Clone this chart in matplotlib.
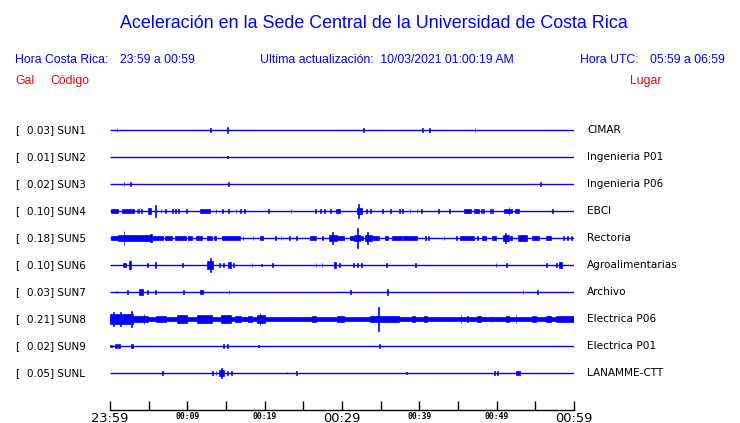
import numpy as np
import matplotlib
matplotlib.use('Agg')
import matplotlib.pyplot as plt

# stations
codes = ['SUN1', 'SUN2', 'SUN3', 'SUN4', 'SUN5', 'SUN6', 'SUN7', 'SUN8', 'SUN9', 'SUNL']
gal_max = [0.03, 0.01, 0.02, 0.10, 0.18, 0.10, 0.03, 0.21, 0.02, 0.05]
places = ['CIMAR', 'Ingenieria P01', 'Ingenieria P06', 'EBCI', 'Rectoria',
          'Agroalimentarias', 'Archivo', 'Electrica P06', 'Electrica P01', 'LANAMME-CTT']

# bursts: (start min, end min, half amplitude in gal)
sun1 = [(0.9, 0.9, 0.03), (13.0, 13.0, 0.03), (15.2, 15.2, 0.045), (32.8, 32.8, 0.03),
        (40.4, 40.4, 0.025), (41.3, 41.3, 0.03), (47.2, 47.2, 0.03)]
sun2 = [(15.2, 15.2, 0.016)]
sun3 = [(1.8, 1.8, 0.03), (2.7, 2.7, 0.025), (15.2, 15.4, 0.035), (55.7, 55.7, 0.03)]
sun4 = [(0.1, 1.0, 0.03), (1.5, 3.1, 0.035), (3.5, 3.5, 0.03), (3.7, 3.7, 0.03), (4.1, 4.1, 0.03),
        (4.9, 5.3, 0.045), (5.9, 5.9, 0.1), (6.6, 6.6, 0.025), (7.2, 7.2, 0.025), (8.1, 8.1, 0.025),
        (8.5, 8.5, 0.025), (8.9, 8.9, 0.025), (9.9, 9.9, 0.025), (11.7, 12.9, 0.04), (13.7, 13.7, 0.025),
        (14.5, 14.5, 0.025), (15.2, 15.4, 0.035), (16.3, 16.3, 0.025), (16.9, 16.9, 0.025),
        (17.4, 17.4, 0.035), (20.5, 20.5, 0.025), (23.4, 23.4, 0.025), (26.6, 26.6, 0.03),
        (27.2, 27.2, 0.03), (27.7, 27.7, 0.03), (28.5, 28.5, 0.03), (29.2, 29.8, 0.04),
        (32.0, 32.6, 0.05), (32.1, 32.1, 0.11), (33.2, 33.2, 0.03), (33.7, 33.7, 0.035),
        (35.2, 35.2, 0.03), (36.3, 36.3, 0.03), (37.4, 37.4, 0.03), (37.8, 37.8, 0.03),
        (38.8, 38.8, 0.03), (39.7, 39.7, 0.03), (40.3, 40.3, 0.03), (42.5, 42.5, 0.025),
        (43.9, 43.9, 0.03), (45.8, 46.7, 0.035), (47.1, 47.7, 0.035), (48.0, 48.0, 0.03),
        (48.3, 48.3, 0.03), (49.2, 49.2, 0.025), (49.5, 49.5, 0.025), (51.0, 52.0, 0.04),
        (51.6, 51.6, 0.07), (52.4, 52.9, 0.035), (57.2, 57.2, 0.03)]
sun5 = [(0.1, 1.0, 0.028), (1.0, 2.6, 0.055), (1.8, 1.8, 0.11), (2.6, 5.2, 0.042), (5.2, 5.4, 0.06),
        (5.4, 6.8, 0.035), (7.1, 8.0, 0.028), (8.4, 9.8, 0.035), (10.1, 10.6, 0.03), (11.1, 11.9, 0.03),
        (12.5, 13.2, 0.03), (13.5, 13.7, 0.03), (14.5, 16.8, 0.04), (17.2, 17.2, 0.03),
        (18.5, 18.5, 0.03), (19.4, 19.8, 0.03), (21.4, 21.4, 0.03), (22.1, 22.1, 0.03),
        (23.2, 23.2, 0.03), (24.1, 24.1, 0.025), (25.9, 26.6, 0.04), (27.5, 27.5, 0.03),
        (28.3, 29.3, 0.05), (28.8, 28.8, 0.1), (29.4, 30.3, 0.03), (31.0, 31.6, 0.04),
        (31.6, 32.3, 0.055), (32.0, 32.0, 0.16), (32.3, 32.7, 0.04), (33.0, 33.9, 0.055),
        (33.3, 33.3, 0.1), (33.9, 34.8, 0.03), (35.6, 36.0, 0.03), (36.5, 37.7, 0.035),
        (37.9, 39.7, 0.035), (40.8, 40.8, 0.03), (41.2, 41.2, 0.03), (43.2, 43.2, 0.025),
        (44.8, 44.8, 0.025), (45.3, 47.1, 0.035), (47.4, 47.6, 0.03), (48.1, 48.6, 0.03),
        (49.4, 49.9, 0.03), (50.8, 51.6, 0.05), (51.1, 51.1, 0.08), (51.7, 52.0, 0.03),
        (52.8, 53.9, 0.045), (54.6, 55.5, 0.028), (56.4, 57.0, 0.03), (58.6, 58.6, 0.025),
        (59.2, 59.2, 0.025), (59.7, 59.7, 0.025)]
sun6 = [(1.7, 2.1, 0.04), (2.5, 2.7, 0.06), (2.6, 2.6, 0.08), (4.8, 4.8, 0.03), (5.8, 6.0, 0.045),
        (9.4, 9.4, 0.04), (12.5, 13.3, 0.06), (13.0, 13.0, 0.113), (14.2, 14.2, 0.03), (14.7, 14.7, 0.03),
        (15.2, 15.6, 0.045), (16.0, 16.0, 0.035), (18.3, 18.4, 0.04), (19.6, 19.6, 0.016),
        (21.0, 21.1, 0.04), (26.6, 26.7, 0.04), (27.4, 27.4, 0.03), (29.0, 29.2, 0.045),
        (29.7, 29.7, 0.03), (31.4, 31.6, 0.04), (32.0, 32.0, 0.03), (32.5, 32.5, 0.04),
        (35.7, 35.8, 0.04), (39.5, 39.5, 0.03), (49.9, 49.9, 0.03), (51.2, 51.3, 0.04),
        (56.4, 56.4, 0.03), (57.7, 57.7, 0.03), (58.0, 58.4, 0.045)]
sun7 = [(0.9, 0.9, 0.016), (2.3, 2.3, 0.03), (3.7, 4.3, 0.045), (4.8, 4.8, 0.035), (5.8, 6.0, 0.04),
        (9.5, 9.5, 0.035), (11.7, 12.0, 0.04), (15.4, 15.4, 0.035), (31.1, 31.1, 0.03),
        (35.8, 35.9, 0.045), (53.4, 53.4, 0.035), (55.2, 55.3, 0.04)]
sun8 = [(0.0, 3.0, 0.085), (2.7, 2.8, 0.13), (0.4, 0.5, 0.12), (1.3, 1.4, 0.12), (3.0, 3.6, 0.055),
        (3.6, 4.9, 0.05), (4.4, 4.4, 0.08), (4.9, 6.0, 0.032), (6.0, 7.3, 0.05), (7.3, 8.6, 0.04),
        (8.6, 9.9, 0.06), (9.9, 11.2, 0.032), (11.2, 13.2, 0.06), (13.2, 14.3, 0.032),
        (14.3, 15.7, 0.065), (15.7, 16.2, 0.032), (16.2, 17.0, 0.045), (17.0, 17.8, 0.032),
        (17.8, 18.3, 0.045), (18.3, 19.0, 0.032), (19.0, 20.0, 0.07), (19.4, 19.4, 0.1),
        (20.0, 23.5, 0.032), (23.5, 26.1, 0.035), (26.1, 26.6, 0.045), (26.6, 29.4, 0.032),
        (29.4, 30.3, 0.045), (30.3, 33.6, 0.035), (33.6, 34.5, 0.045), (34.5, 35.5, 0.055),
        (34.7, 34.7, 0.2), (35.5, 37.4, 0.055), (37.4, 38.7, 0.035), (38.7, 41.0, 0.04),
        (39.0, 39.4, 0.05), (40.6, 41.0, 0.05), (41.0, 42.6, 0.035), (42.6, 45.2, 0.04),
        (45.4, 45.4, 0.065), (45.2, 57.7, 0.032), (46.2, 46.2, 0.05), (47.5, 48.0, 0.045),
        (49.4, 49.4, 0.05), (51.2, 51.6, 0.05), (52.5, 52.5, 0.065), (54.6, 55.1, 0.045),
        (56.4, 57.0, 0.05), (57.7, 60.0, 0.042)]
sun9 = [(0.0, 0.3, 0.024), (0.4, 0.4, 0.016), (0.6, 0.9, 0.03), (1.0, 1.3, 0.03), (2.7, 3.0, 0.035),
        (14.7, 14.7, 0.03), (15.2, 15.2, 0.03), (19.2, 19.2, 0.016), (34.8, 34.8, 0.04),
        (35.3, 35.3, 0.024)]
sunl = [(6.7, 6.9, 0.035), (13.3, 13.3, 0.03), (13.7, 13.7, 0.03), (14.1, 14.8, 0.05),
        (14.4, 14.4, 0.08), (15.2, 15.2, 0.03), (15.7, 15.7, 0.03), (22.9, 22.9, 0.016),
        (24.1, 24.1, 0.03), (38.3, 38.3, 0.024), (49.7, 49.7, 0.03), (50.1, 50.1, 0.03),
        (52.5, 53.0, 0.035)]
bursts = [sun1, sun2, sun3, sun4, sun5, sun6, sun7, sun8, sun9, sunl]

big_ticks = ['23:59', '00:29', '00:59']
small_ticks = ['00:09', '00:19', '00:39', '00:49']

W, H = 740, 423
BLUE = '#0000ff'
RED = '#ff0000'
PX_PER_GAL = 62.0

fig = plt.figure(figsize=(W / 100, H / 100), dpi=100)

def px(x, y):
    return x / W, 1 - y / H

# trace axes, y in pixels so rows sit at fixed spacing
x0, x1, ytop, ybot = 110, 574, 103, 410
ax = fig.add_axes([x0 / W, 1 - ybot / H, (x1 - x0) / W, (ybot - ytop) / H])
ax.set_xlim(0, 60)
ax.set_ylim(ybot, ytop)
for s in ['top', 'left', 'right']:
    ax.spines[s].set_visible(False)
ax.spines['bottom'].set_linewidth(1.0)
ax.set_yticks([])
ax.set_xticks(np.arange(0, 61, 5))
ax.tick_params(axis='x', direction='in', length=6.5, width=1.0, labelbottom=False)

for i, code in enumerate(codes):
    yc = 130 + 27 * i
    ax.hlines(yc, 0, 60, color=BLUE, lw=1.0)
    for t0, t1, a in bursts[i]:
        h = a * PX_PER_GAL
        ax.bar((t0 + t1) / 2, 2 * h, bottom=yc - h, width=max(t1 - t0, 0.1),
               color=BLUE, edgecolor=BLUE, lw=0.5)
    fx, fy = px(15, yc)
    fig.text(fx, fy, '[', fontsize=7.5, va='center', ha='left')
    fx, fy = px(27.3, yc)
    fig.text(fx, fy, '%.2f] %s' % (gal_max[i], code), fontsize=7.5, va='center', ha='left')
    fx, fy = px(587, yc)
    fig.text(fx, fy, places[i], fontsize=7.6, va='center', ha='left')

# time labels
for k, lab in enumerate(big_ticks):
    fx, fy = px(x0 + (x1 - x0) * 30 * k / 60, 418)
    fig.text(fx, fy, lab, fontsize=9.4, ha='center', va='center')
for k, lab in zip([10, 20, 40, 50], small_ticks):
    fx, fy = px(x0 + (x1 - x0) * k / 60, 416)
    fig.text(fx, fy, lab, fontsize=5.8, ha='center', va='center',
             family='DejaVu Sans Mono', weight='bold')

# header
hf = 'Liberation Sans'
fx, fy = px(374, 23)
fig.text(fx, fy, 'Aceleración en la Sede Central de la Universidad de Costa Rica',
         fontsize=12.9, color=BLUE, ha='center', va='center', family=hf)
for x, s in [(15, 'Hora Costa Rica:'), (120, '23:59 a 00:59'),
             (260.5, 'Ultima actualización:  10/03/2021 01:00:19 AM'),
             (580.5, 'Hora UTC:'), (650.5, '05:59 a 06:59')]:
    fx, fy = px(x, 60)
    fig.text(fx, fy, s, fontsize=8.8, color=BLUE, ha='left', va='center', family=hf)
for x, s in [(15, 'Gal'), (50, 'Código'), (630, 'Lugar')]:
    fx, fy = px(x, 81)
    fig.text(fx, fy, s, fontsize=8.8, color=RED, ha='left', va='center', family=hf)

plt.savefig('out.png', dpi=100)
